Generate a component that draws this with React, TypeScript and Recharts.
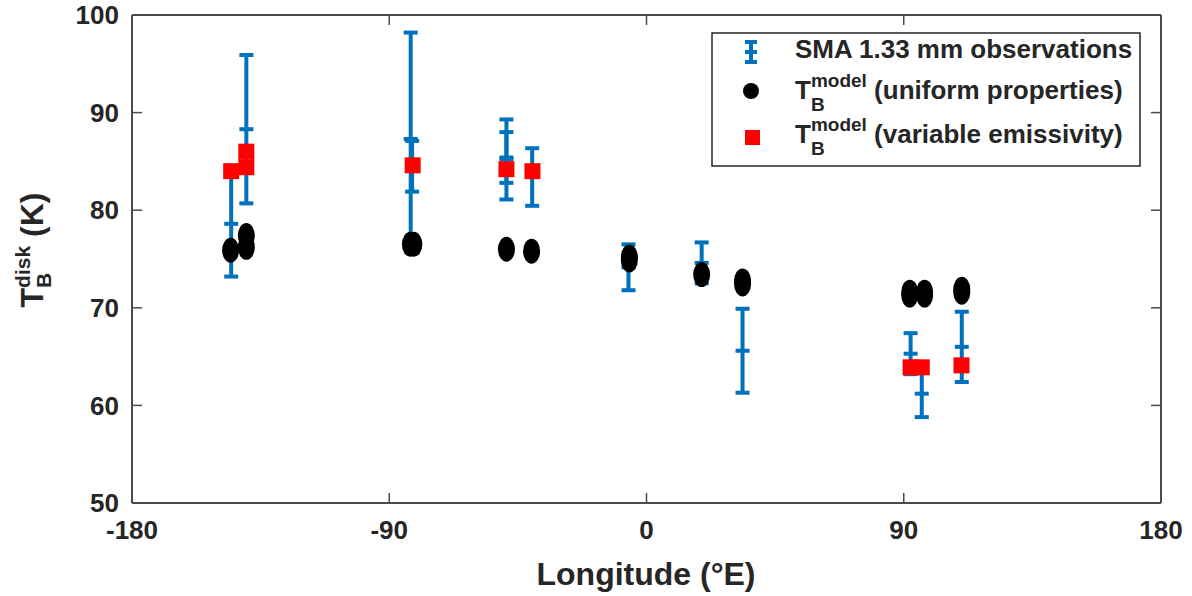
import React from 'react'
import { ScatterChart, Scatter, XAxis, YAxis, ErrorBar, Legend, Label } from 'recharts'

const FONT = '"Liberation Sans", Arial, Helvetica, sans-serif'
const INK = '#262626'
const FRAME = '#4a4a4a'
const BLUE = '#0072BD'
const RED = '#FF0000'

const X_TICKS = [-180, -90, 0, 90, 180]
const Y_TICKS = [50, 60, 70, 80, 90, 100]

// SMA 1.33 mm observations: longitude, disk T_B, 1-sigma
const obsLon = [-145.3, -140, -82.5, -82, -49, -49, -40, -6.3, 19.3, 33.6, 92.4, 96.3, 110.3]
const obsT = [78.6, 88.3, 87.3, 84.5, 85.2, 85.4, 83.4, 74.15, 74.6, 65.6, 65.3, 61.2, 66.0]
const obsErr = [5.4, 7.6, 10.9, 2.6, 4.1, 2.6, 2.95, 2.35, 2.1, 4.3, 2.1, 2.4, 3.6]

// model, uniform properties
const uniLon = [-145.5, -140, -140, -82.6, -81.4, -49, -40.2, -6, -6, 19.3, 33.6, 33.6, 92.1, 92.1, 97.3, 97.3, 110.3, 110.3]
const uniT = [75.9, 77.4, 76.2, 76.5, 76.5, 76.0, 75.8, 75.2, 74.9, 73.4, 72.75, 72.45, 71.6, 71.3, 71.6, 71.3, 71.9, 71.6]

// model, variable emissivity
const varLon = [-145.3, -140, -140, -81.8, -49, -39.9, 92.4, 96.3, 110.2]
const varT = [84.0, 86.0, 84.4, 84.6, 84.2, 84.0, 63.9, 63.9, 64.1]

const obsData = obsLon.map((lon, i) => ({ lon, t: obsT[i], err: obsErr[i] }))
const uniData = uniLon.map((lon, i) => ({ lon, t: uniT[i] }))
const varData = varLon.map((lon, i) => ({ lon, t: varT[i] }))

const tickStyle = { fill: INK, fontSize: 26, fontWeight: 700, fontFamily: FONT }

const ObsMark = (p: any) => (
  <line x1={p.cx - 7} x2={p.cx + 7} y1={p.cy} y2={p.cy} stroke={BLUE} strokeWidth={4} />
)
const Dot = (p: any) => <ellipse cx={p.cx} cy={p.cy} rx={8.5} ry={12.5} fill="#000" />
const Square = (p: any) => <rect x={p.cx - 8} y={p.cy - 8} width={16} height={16} fill={RED} />
const Nothing = () => <g />

const ModelText = ({ x, y, rest }: { x: number; y: number; rest: string }) => (
  <text x={x} y={y} fill={INK} fontFamily={FONT} fontWeight={700} fontSize={26}>
    T
    <tspan fontSize={19} dy={12}>B</tspan>
    <tspan fontSize={19} dx={-13.7} dy={-24}>model</tspan>
    <tspan dy={12}> {rest}</tspan>
  </text>
)

function LegendBox() {
  return (
    <svg width={430} height={135} style={{ display: 'block' }}>
      <rect x={1} y={1} width={428} height={133} fill="#fff" stroke={INK} strokeWidth={1.5} />
      {/* errorbar icon */}
      <g stroke={BLUE} strokeWidth={4}>
        <line x1={40} x2={40} y1={10} y2={30} />
        <line x1={34} x2={46} y1={10} y2={10} />
        <line x1={34} x2={46} y1={20} y2={20} />
        <line x1={34} x2={46} y1={30} y2={30} />
      </g>
      <text x={84} y={26} fill={INK} fontFamily={FONT} fontWeight={700} fontSize={26}>
        SMA 1.33 mm observations
      </text>
      <circle cx={40} cy={59} r={8} fill="#000" />
      <ModelText x={84} y={67} rest="(uniform properties)" />
      <rect x={34} y={98} width={15} height={15} fill={RED} />
      <ModelText x={84} y={111} rest="(variable emissivity)" />
    </svg>
  )
}

const YTitle = () => (
  <text
    x={43}
    y={250}
    transform="rotate(-90, 43, 250)"
    textAnchor="middle"
    fill={INK}
    fontFamily={FONT}
    fontWeight={700}
    fontSize={32}
  >
    T
    <tspan fontSize={21} dy={8}>B</tspan>
    <tspan fontSize={21} dx={-15.2} dy={-21}>disk</tspan>
    <tspan dy={13}> (K)</tspan>
  </text>
)

const XTitle = () => (
  <text x={646} y={585} textAnchor="middle" fill={INK} fontFamily={FONT} fontWeight={700} fontSize={32}>
    Longitude (°E)
  </text>
)

const frameLine = { stroke: FRAME, strokeWidth: 2 }
const frameTick = { stroke: FRAME, strokeWidth: 1.5 }

export default function App() {
  return (
    <div style={{ position: 'absolute', left: 0, top: 0, background: '#fff' }}>
      <ScatterChart width={1192} height={596} margin={{ top: 14, right: 30, bottom: 0, left: 0 }}>
        <XAxis
          xAxisId="b"
          type="number"
          dataKey="lon"
          domain={[-180, 180]}
          allowDataOverflow
          ticks={X_TICKS}
          height={93}
          tickSize={-10}
          tickMargin={28}
          tick={tickStyle}
          axisLine={frameLine}
          tickLine={frameTick}
        >
          <Label content={<XTitle />} />
        </XAxis>
        <XAxis
          xAxisId="t"
          orientation="top"
          type="number"
          dataKey="lon"
          domain={[-180, 180]}
          allowDataOverflow
          ticks={X_TICKS}
          height={1}
          tickSize={-10}
          tick={Nothing}
          axisLine={frameLine}
          tickLine={frameTick}
        />
        <YAxis
          yAxisId="l"
          type="number"
          dataKey="t"
          domain={[50, 100]}
          allowDataOverflow
          ticks={Y_TICKS}
          width={132}
          tickSize={-10}
          tickMargin={23}
          tick={tickStyle}
          axisLine={frameLine}
          tickLine={frameTick}
        >
          <Label content={<YTitle />} />
        </YAxis>
        <YAxis
          yAxisId="r"
          orientation="right"
          type="number"
          dataKey="t"
          domain={[50, 100]}
          allowDataOverflow
          ticks={Y_TICKS}
          width={1}
          tickSize={-10}
          tick={Nothing}
          axisLine={frameLine}
          tickLine={frameTick}
        />
        {/* invisible series so the mirrored top/right axes get drawn */}
        <Scatter xAxisId="t" yAxisId="r" data={obsData} shape={Nothing} isAnimationActive={false} />
        <Scatter
          xAxisId="b"
          yAxisId="l"
          data={obsData}
          shape={ObsMark}
          isAnimationActive={false}
        >
          <ErrorBar dataKey="err" direction="y" width={7} stroke={BLUE} strokeWidth={4} />
        </Scatter>
        <Scatter xAxisId="b" yAxisId="l" data={uniData} shape={Dot} isAnimationActive={false} />
        <Scatter xAxisId="b" yAxisId="l" data={varData} shape={Square} isAnimationActive={false} />
        <Legend
          layout="vertical"
          align="center"
          verticalAlign="middle"
          content={() => <LegendBox />}
          wrapperStyle={{ left: 711, top: 32, width: 430, height: 135 }}
        />
      </ScatterChart>
    </div>
  )
}
